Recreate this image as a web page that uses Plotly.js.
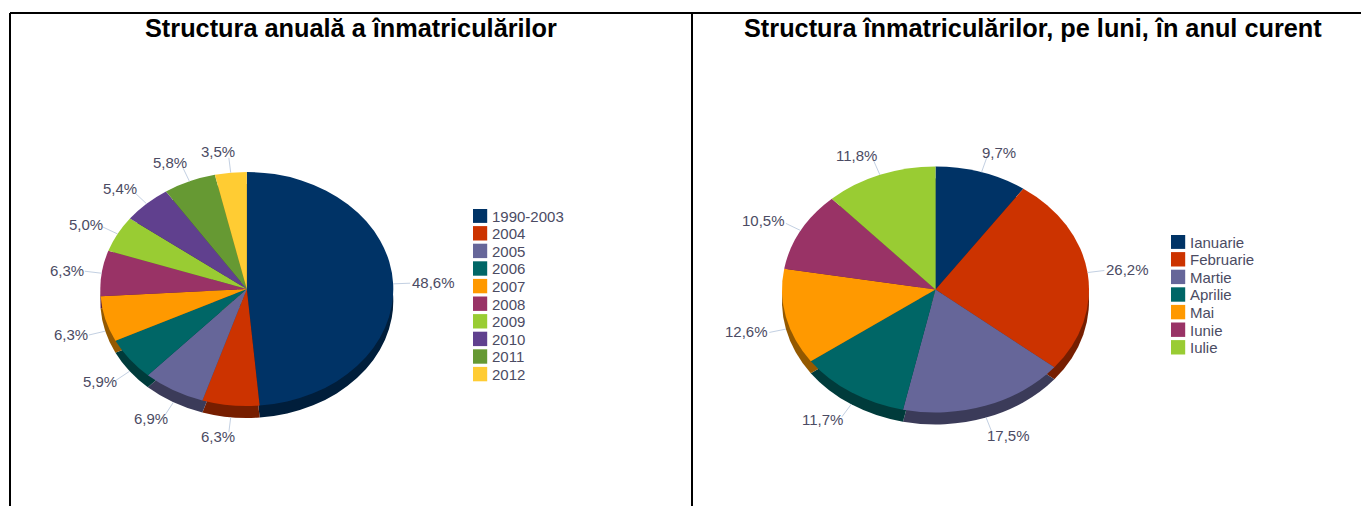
<!DOCTYPE html>
<html><head><meta charset="utf-8">
<script src="https://cdn.plot.ly/plotly-3.0.1.min.js"></script>
<style>html,body{margin:0;padding:0;background:#fff;overflow:hidden}#c{width:1361px;height:506px}</style>
</head><body><div id="c"></div>
<script>
// ---- data ----
const yearLabels = ['1990-2003','2004','2005','2006','2007','2008','2009','2010','2011','2012'];
const yearValues = [48.6,6.3,6.9,5.9,6.3,6.3,5.0,5.4,5.8,3.5];
const monthLabels = ['Ianuarie','Februarie','Martie','Aprilie','Mai','Iunie','Iulie'];
const monthValues = [9.7,26.2,17.5,11.7,12.6,10.5,11.8];
const palette = ['#003366','#CC3300','#666699','#006666','#FF9900','#993366','#99CC33','#60408E','#669933','#FFCC33'];
const titleLeft = 'Structura anuală a înmatriculărilor';
const titleRight = 'Structura înmatriculărilor, pe luni, în anul curent';

// ---- geometry of the page ----
const W = 1361, H = 506, DEPTH = 12;
const INK = '#4b4b63', FONT = 'Liberation Sans, Arial, sans-serif';
const pies = [
  {labels: yearLabels,  values: yearValues,  cx: 246.8, cy: 289, rx: 146.5, ry: 117, legend: 'legend',  lx: 473,  ly: 209},
  {labels: monthLabels, values: monthValues, cx: 935.5, cy: 289.5, rx: 153.5, ry: 123, legend: 'legend2', lx: 1171, ly: 235}
];
const darken = (hex, k) => '#' + [1,3,5].map(i => Math.round(parseInt(hex.substr(i,2),16)*k).toString(16).padStart(2,'0')).join('');
const px = x => x / W, py = y => 1 - y / H;

const traces = [], annotations = [], shapes = [];
pies.forEach(p => {
  const domain = {x: [px(p.cx - p.rx), px(p.cx + p.rx)], y: [py(p.cy + p.rx), py(p.cy - p.rx)]};
  const base = {type: 'pie', labels: p.labels, values: p.values, sort: false, direction: 'clockwise', rotation: 0,
    textinfo: 'none', hoverinfo: 'label+percent', domain};
  traces.push(Object.assign({}, base, {showlegend: false, marker: {colors: palette.map(c => darken(c, 0.58)), line: {width: 0}}}));
  traces.push(Object.assign({}, base, {legend: p.legend, marker: {colors: palette, line: {width: 0}}}));
  // outside value labels with leader lines, placed from the slice mid-angles
  const total = p.values.reduce((a, b) => a + b, 0);
  let cum = 0;
  p.values.forEach(v => {
    const a = (cum + v / 2) / total * 2 * Math.PI; cum += v;
    const s = Math.sin(a), c = Math.cos(a);
    const ex = p.cx + p.rx * s, ey = p.cy - p.ry * c, low = c < 0;
    const text = v.toFixed(1).replace('.', ',') + '%';
    const wide = text.length > 4;
    const half = text.length * 3.9;
    const lx = ex + Math.sign(s) * ((wide ? 14 : 10) + (half + (wide ? 7 : 9)) * Math.abs(s));
    const ly = low ? ey + 10 + 21 * Math.abs(c) : ey - 21 * c;
    shapes.push({type: 'line', xref: 'paper', yref: 'paper', layer: 'above',
      x0: px(ex), y0: py(ey + (low ? DEPTH : 0)),
      x1: px(ex + 17 * s), y1: py(ey + (low ? DEPTH : 0) - 15 * c),
      line: {color: '#c3d0e2', width: 1}});
    annotations.push({xref: 'paper', yref: 'paper', x: px(lx), y: py(ly), xanchor: 'center', yanchor: 'middle',
      text, showarrow: false, font: {family: FONT, size: 15, color: INK}, bgcolor: 'rgba(0,0,0,0)'});
  });
});

// panel titles and frame
[[titleLeft, 351], [titleRight, 1033]].forEach(t => annotations.push({xref: 'paper', yref: 'paper',
  x: px(t[1]), y: py(28), xanchor: 'center', yanchor: 'middle', text: '<b>' + t[0] + '</b>', showarrow: false,
  font: {family: FONT, size: 25.3, color: '#000'}}));
[[10,13,1361,13],[10,13,10,506],[692,13,692,506]].forEach(l => shapes.push({type: 'line', xref: 'paper', yref: 'paper',
  x0: px(l[0]), y0: py(l[1]), x1: px(l[2]), y1: py(l[3]), line: {color: '#000', width: 2}}));

const legendBase = {font: {family: FONT, size: 15, color: INK}, bgcolor: 'rgba(0,0,0,0)', borderwidth: 0,
  xanchor: 'left', yanchor: 'top', traceorder: 'normal'};
const layout = {width: W, height: H, margin: {l: 0, r: 0, t: 0, b: 0}, paper_bgcolor: '#fff', showlegend: true,
  legend: Object.assign({}, legendBase, {x: px(pies[0].lx), y: py(pies[0].ly)}),
  legend2: Object.assign({}, legendBase, {x: px(pies[1].lx), y: py(pies[1].ly)}),
  annotations, shapes};

Plotly.newPlot('c', traces, layout, {displayModeBar: false, staticPlot: true}).then(gd => {
  // pies are drawn by Plotly as circles: flatten them into the reference's perspective, dark copy lower as the side wall
  gd.querySelectorAll('.pielayer .trace').forEach((g, i) => {
    const p = pies[Math.floor(i / 2)], shift = i % 2 === 0 ? DEPTH : 0;
    g.setAttribute('transform', `translate(0,${p.cy + shift}) scale(1,${p.ry / p.rx}) translate(0,${-p.cy})`);
  });
  // tighten the legend rows, enlarge swatches, bring the text next to them
  gd.querySelectorAll('g.legend, g.legend2').forEach(leg => {
    leg.querySelectorAll('.traces').forEach((t, i) => {
      t.setAttribute('transform', `translate(0,${6.7 + i * 17.6})`);
      t.querySelectorAll('.legendpie').forEach(s => {
        s.setAttribute('transform', 'translate(7,0) scale(1.2)');
      });
      const tx = t.querySelector('text');
      if (tx) { tx.setAttribute('x', 19); }
    });
  });
});
</script></body></html>
